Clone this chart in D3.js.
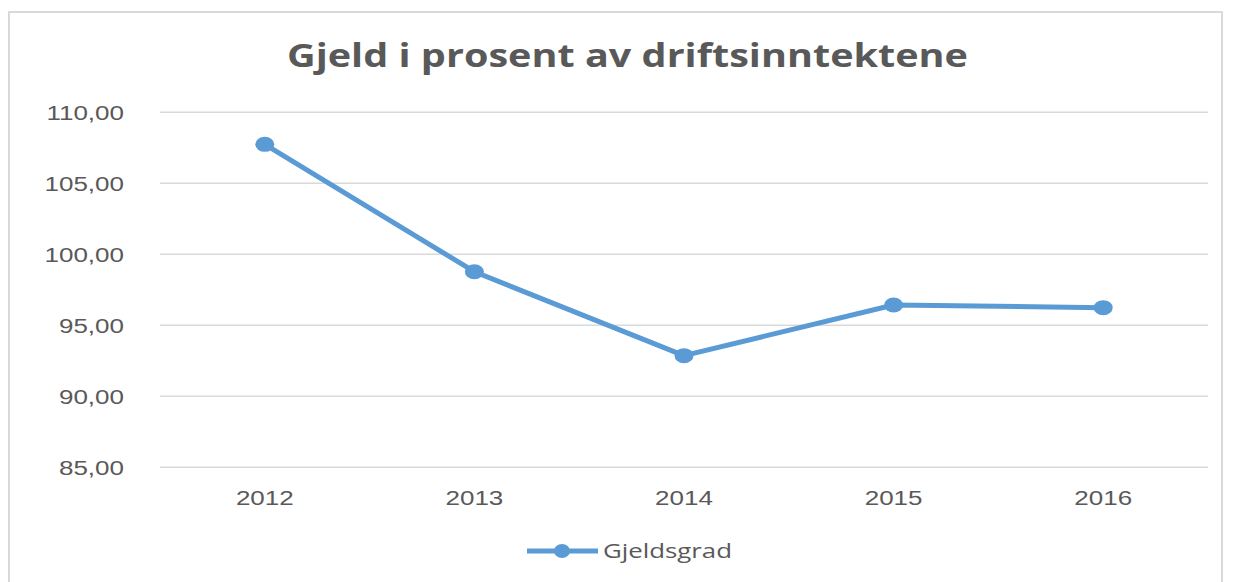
<!DOCTYPE html>
<html>
<head>
<meta charset="utf-8">
<script src="https://cdn.jsdelivr.net/npm/d3@7"></script>
<style>
  body { margin: 0; background: #fff; }
  svg { display: block; font-family: "Open Sans", sans-serif; }
</style>
</head>
<body>
<div id="chart"></div>
<script>
// data
var years = ["2012", "2013", "2014", "2015", "2016"]
var gjeldsgrad = [107.70, 98.73, 92.82, 96.39, 96.20]
var yTicks = [85, 90, 95, 100, 105, 110]
var seriesName = "Gjeldsgrad"
var titleText = "Gjeld i prosent av driftsinntektene"

var W = 1233, H = 582
var margin = {top: 111.7, right: 25, bottom: 115.3, left: 160}
var width = W - margin.left - margin.right   // 1048
var height = H - margin.top - margin.bottom  // 355
var stretch = 1.3   // the picture is wider than it is tall, text looks stretched
var grey = "#595959"
var blue = "#5B9BD5"

var svg = d3.select("#chart").append("svg")
    .attr("width", W)
    .attr("height", H)

// chart frame
svg.append("rect")
    .attr("x", 9).attr("y", 12)
    .attr("width", 1213).attr("height", 620)
    .attr("fill", "white")
    .attr("stroke", "#d9d9d9")
    .attr("stroke-width", 2)

var g = svg.append("g")
    .attr("transform", "translate(" + margin.left + "," + margin.top + ")")

var x = d3.scaleBand().domain(years).range([0, width])
var y = d3.scaleLinear().domain([85, 110]).range([height, 0])

var fmt = function(v) { return d3.format(".2f")(v).replace(".", ",") }

// y axis + gridlines
var yAxis = g.append("g")
    .call(d3.axisLeft(y).tickValues(yTicks).tickFormat(fmt).tickSize(-width).tickPadding(36))
yAxis.select(".domain").remove()
yAxis.selectAll(".tick line").attr("stroke", "#d9d9d9").attr("stroke-width", 1.5)
yAxis.selectAll(".tick text")
    .attr("fill", grey).style("font-size", "20px")
    .attr("dy", "7.3px")

// x axis
var xAxis = g.append("g")
    .attr("transform", "translate(0," + height + ")")
    .call(d3.axisBottom(x).tickSize(0).tickPadding(0))
xAxis.select(".domain").remove()
xAxis.selectAll(".tick text")
    .attr("fill", grey).style("font-size", "20px")
    .attr("y", 38.3).attr("dy", 0)

// widen the text like the picture
function widen(sel, k) {
  sel.each(function() {
    var len = this.getComputedTextLength()
    d3.select(this).attr("textLength", len * k).attr("lengthAdjust", "spacingAndGlyphs")
  })
}
widen(yAxis.selectAll(".tick text"), stretch)
widen(xAxis.selectAll(".tick text"), stretch)

// line
var line = d3.line()
    .x(function(d, i) { return x(years[i]) + x.bandwidth() / 2 })
    .y(function(d) { return y(d) })

g.append("path")
    .datum(gjeldsgrad)
    .attr("fill", "none")
    .attr("stroke", blue)
    .attr("stroke-width", 5)
    .attr("stroke-linejoin", "round")
    .attr("d", line)

g.selectAll(".dot")
    .data(gjeldsgrad)
    .enter()
    .append("ellipse")
    .attr("class", "dot")
    .attr("cx", function(d, i) { return x(years[i]) + x.bandwidth() / 2 })
    .attr("cy", function(d) { return y(d) })
    .attr("rx", 9.5)
    .attr("ry", 7.5)
    .attr("fill", blue)

// title
var title = svg.append("text")
    .attr("x", 287)
    .attr("y", 66.7)
    .attr("fill", grey)
    .style("font-size", "32px")
    .style("font-weight", "bold")
    .text(titleText)
title.attr("textLength", 681).attr("lengthAdjust", "spacingAndGlyphs")

// legend
var lg = svg.append("g").attr("transform", "translate(0,551)")
lg.append("line")
    .attr("x1", 527).attr("x2", 598)
    .attr("stroke", blue).attr("stroke-width", 5)
lg.append("ellipse")
    .attr("cx", 562).attr("cy", 0)
    .attr("rx", 8).attr("ry", 7)
    .attr("fill", blue)
var lt = lg.append("text")
    .attr("x", 603).attr("y", 7.3)
    .attr("fill", grey)
    .style("font-size", "20px")
    .text(seriesName)
lt.attr("textLength", 129).attr("lengthAdjust", "spacingAndGlyphs")
</script>
</body>
</html>
